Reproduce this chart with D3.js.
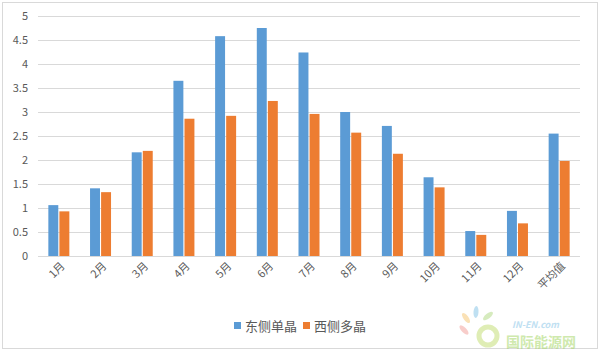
<!DOCTYPE html>
<html>
<head>
<meta charset="utf-8">
<script src="https://cdn.jsdelivr.net/npm/d3@7"></script>
<style>
  body { margin: 0; background: #fff; }
  text { font-family: "Noto Sans CJK SC", "Noto Sans", sans-serif; }
</style>
</head>
<body>
<div id="chart"></div>
<script>
var categories = ["1月", "2月", "3月", "4月", "5月", "6月", "7月", "8月", "9月", "10月", "11月", "12月", "平均值"];
var seriesNames = ["东侧单晶", "西侧多晶"];
var eastMono = [1.06, 1.41, 2.16, 3.65, 4.58, 4.75, 4.24, 3.0, 2.71, 1.64, 0.52, 0.94, 2.55];
var westPoly = [0.93, 1.33, 2.19, 2.86, 2.92, 3.23, 2.96, 2.57, 2.13, 1.43, 0.44, 0.68, 1.98];
var yTicks = [0, 0.5, 1, 1.5, 2, 2.5, 3, 3.5, 4, 4.5, 5];
var colors = ["#5B9BD5", "#ED7D31"];

var W = 600, H = 353;
var margin = { top: 16, right: 20, bottom: 97, left: 38 },
    width = W - margin.left - margin.right,
    height = H - margin.top - margin.bottom;

var root = d3.select("#chart").append("svg")
    .attr("width", W)
    .attr("height", H);

// outer frame
root.append("rect")
    .attr("x", 2.5).attr("y", 2.5)
    .attr("width", W - 5).attr("height", H - 7)
    .attr("fill", "none")
    .attr("stroke", "#d9d9d9");

var svg = root.append("g")
    .attr("transform", "translate(" + margin.left + "," + margin.top + ")");

var x = d3.scaleBand().domain(categories).range([0, width]);
var x1 = d3.scaleBand().domain(seriesNames).range([x.bandwidth() / 2 - 10.5, x.bandwidth() / 2 + 10.5]).paddingInner(0.1);
var y = d3.scaleLinear().domain([0, 5]).range([height, 0]);

// gridlines
svg.append("g")
    .selectAll("line")
    .data(yTicks)
    .enter().append("line")
    .attr("x1", 0).attr("x2", width)
    .attr("y1", function (d) { return Math.round(y(d)) + 0.5; })
    .attr("y2", function (d) { return Math.round(y(d)) + 0.5; })
    .attr("stroke", "#d9d9d9");

// y axis labels
var yAxis = svg.append("g").call(d3.axisLeft(y).tickValues(yTicks).tickFormat(d3.format("~g")).tickSize(0).tickPadding(10));
yAxis.select(".domain").remove();
yAxis.selectAll("text")
    .attr("fill", "#595959")
    .style("font-size", "11px");

// bars
var data = categories.map(function (c, i) {
    return { cat: c, vals: [eastMono[i], westPoly[i]] };
});
var groups = svg.selectAll(".grp")
    .data(data)
    .enter().append("g")
    .attr("transform", function (d) { return "translate(" + x(d.cat) + ",0)"; });
groups.selectAll("rect")
    .data(function (d) { return d.vals.map(function (v, j) { return { name: seriesNames[j], v: v, j: j }; }); })
    .enter().append("rect")
    .attr("x", function (d) { return x1(d.name); })
    .attr("width", x1.bandwidth())
    .attr("y", function (d) { return y(d.v); })
    .attr("height", function (d) { return height - y(d.v); })
    .attr("fill", function (d) { return colors[d.j]; });

// x axis labels
svg.append("g").selectAll("text")
    .data(categories)
    .enter().append("text")
    .attr("transform", function (d) {
        return "translate(" + (x(d) + x.bandwidth() / 2 + 4) + "," + (height + 8) + ") rotate(-45)";
    })
    .attr("text-anchor", "end")
    .attr("dy", "0.35em")
    .attr("fill", "#595959")
    .style("font-size", "11px")
    .text(function (d) { return d; });

// legend
var legend = root.append("g").attr("transform", "translate(234,326)");
var items = [0, 69];
seriesNames.forEach(function (n, i) {
    var g = legend.append("g").attr("transform", "translate(" + items[i] + ",0)");
    g.append("rect").attr("x", 0).attr("y", -4).attr("width", 7).attr("height", 7).attr("fill", colors[i]);
    g.append("text").attr("x", 11).attr("y", 0).attr("dy", "0.35em")
        .attr("fill", "#595959").style("font-size", "13px").text(n);
});

// watermark
var wm = root.append("g").attr("transform", "translate(470,300)").attr("opacity", 0.55);
var petals = [[-6, 30, "#f4a6a0"], [-4, 18, "#f7c97a"], [6, 12, "#8cc7e8"], [18, 16, "#b5dc8a"]];
petals.forEach(function (p) {
    wm.append("ellipse").attr("cx", p[0]).attr("cy", p[1]).attr("rx", 2.5).attr("ry", 6)
        .attr("transform", "rotate(" + (p[0] * 4 - 20) + "," + p[0] + "," + p[1] + ")")
        .attr("fill", p[2]);
});
wm.append("circle").attr("cx", 18).attr("cy", 36).attr("r", 9)
    .attr("fill", "none").attr("stroke", "#c6e07a").attr("stroke-width", 5);
wm.append("text").attr("x", 42).attr("y", 28).attr("fill", "#8cc7e8")
    .style("font-size", "9px").style("font-style", "italic").style("font-weight", "bold").text("IN-EN.com");
wm.append("text").attr("x", 36).attr("y", 47).attr("fill", "#a8d86b")
    .style("font-size", "14px").style("font-weight", "bold").text("国际能源网");
</script>
</body>
</html>
